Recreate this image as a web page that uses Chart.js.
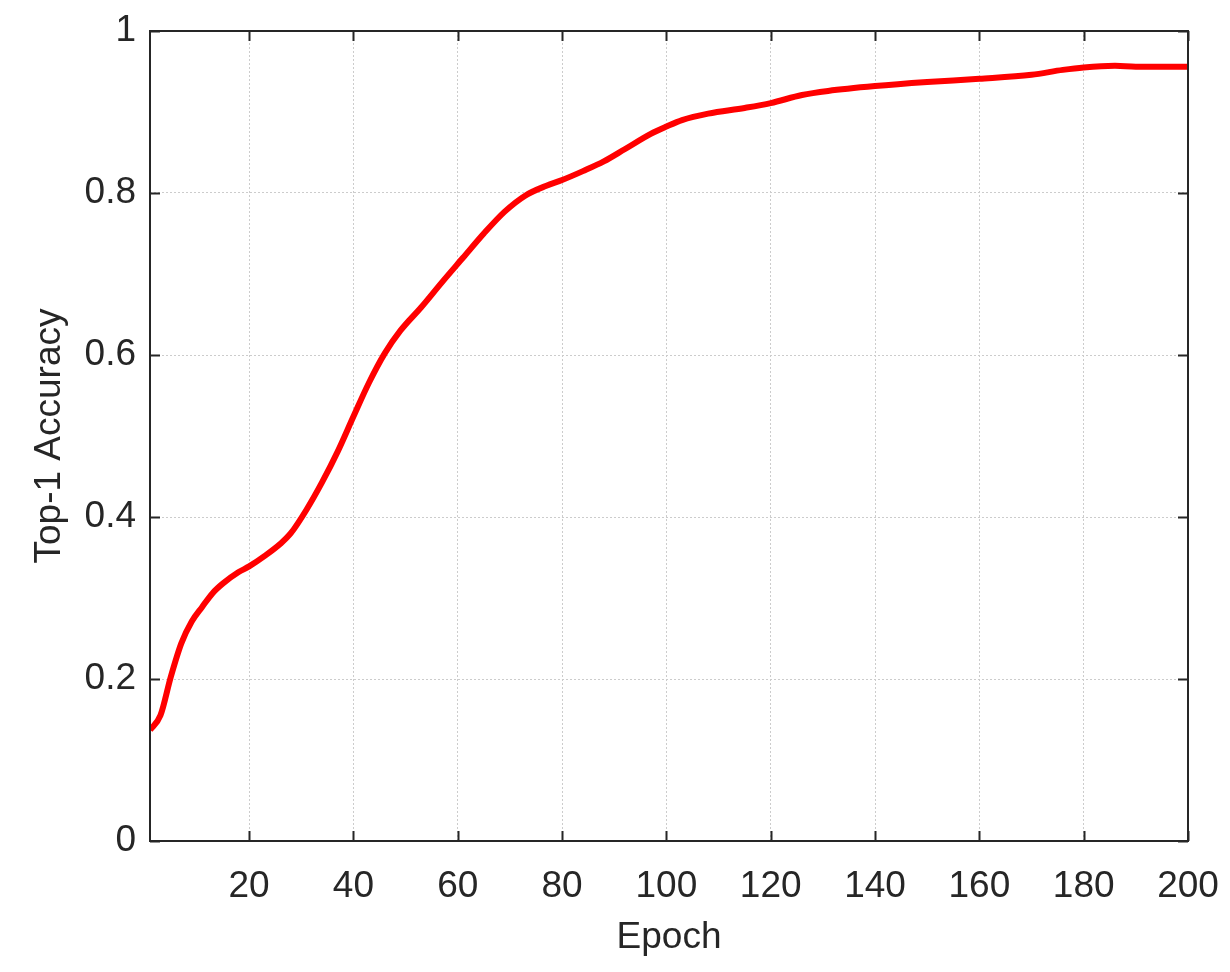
<!DOCTYPE html>
<html>
<head>
<meta charset="utf-8">
<script src="https://cdn.jsdelivr.net/npm/chart.js@4/dist/chart.umd.min.js"></script>
<style>
  html, body { margin: 0; padding: 0; background: #fff; }
  #wrap { width: 1230px; height: 972px; }
</style>
</head>
<body>
<div id="wrap"><canvas id="accChart"></canvas></div>
<script>
// values
var epochs = [1, 3, 5, 7, 9, 11, 13, 15, 18, 20, 23, 26, 28, 31, 34, 37, 40, 43, 46, 49,
              53, 57, 61, 65, 69, 73, 77, 80, 84, 88, 92, 97, 100, 103, 108, 115, 120, 126,
              131, 140, 150, 160, 170, 176, 180, 186, 190, 200];
var accuracy = [0.137, 0.155, 0.203, 0.244, 0.271, 0.289, 0.306, 0.318, 0.332, 0.339, 0.352,
                0.367, 0.380, 0.409, 0.443, 0.481, 0.524, 0.566, 0.602, 0.630, 0.659, 0.690,
                0.720, 0.750, 0.777, 0.797, 0.809, 0.816, 0.827, 0.839, 0.854, 0.873, 0.882,
                0.890, 0.898, 0.905, 0.911, 0.921, 0.926, 0.932, 0.937, 0.941, 0.946, 0.952,
                0.955, 0.957, 0.956, 0.956];
var xTicks = [20, 40, 60, 80, 100, 120, 140, 160, 180, 200];
var yTicks = [0, 0.2, 0.4, 0.6, 0.8, 1];

var points = epochs.map(function(e, i) { return {x: e, y: accuracy[i]}; });

var textColor = '#262626';
var fontFamily = 'Arial, "Liberation Sans", Helvetica, sans-serif';

// matlab style box with inward ticks on all four sides
var boxPlugin = {
    id: 'boxTicks',
    afterDraw: function(chart) {
        var ctx = chart.ctx;
        var a = chart.chartArea;
        var xs = chart.scales.x, ys = chart.scales.y;
        var len = 10;
        ctx.save();
        ctx.strokeStyle = textColor;
        ctx.lineWidth = 2;
        ctx.beginPath();
        xTicks.forEach(function(v) {
            var px = Math.round(xs.getPixelForValue(v)) + 0.5;
            ctx.moveTo(px, a.bottom); ctx.lineTo(px, a.bottom - len);
            ctx.moveTo(px, a.top); ctx.lineTo(px, a.top + len);
        });
        yTicks.forEach(function(v) {
            var py = Math.round(ys.getPixelForValue(v)) + 0.5;
            ctx.moveTo(a.left, py); ctx.lineTo(a.left + len, py);
            ctx.moveTo(a.right, py); ctx.lineTo(a.right - len, py);
        });
        ctx.stroke();
        ctx.strokeRect(a.left, a.top, a.right - a.left, a.bottom - a.top);
        ctx.restore();
    }
};

var ctx = document.getElementById('accChart').getContext('2d');
var accChart = new Chart(ctx, {
    type: 'line',
    data: {
        datasets: [{
            label: 'Top-1 Accuracy',
            data: points,
            borderColor: '#ff0000',
            borderWidth: 6,
            pointRadius: 0,
            fill: false,
            cubicInterpolationMode: 'monotone'
        }]
    },
    options: {
        responsive: true,
        maintainAspectRatio: false,
        animation: false,
        layout: { padding: { top: 31, right: 42, left: 0, bottom: 0 } },
        plugins: { legend: { display: false }, tooltip: { enabled: false } },
        scales: {
            x: {
                type: 'linear',
                min: 1,
                max: 200,
                afterBuildTicks: function(scale) {
                    scale.ticks = xTicks.map(function(v) { return {value: v}; });
                },
                afterFit: function(scale) {
                    scale.height = 131;
                    scale.paddingLeft = 0;
                    scale.paddingRight = 0;
                },
                grid: {
                    color: '#cccccc',
                    lineWidth: 1,
                    drawTicks: false
                },
                border: { display: false, dash: [2, 2] },
                ticks: {
                    color: textColor,
                    padding: 24,
                    maxRotation: 0,
                    autoSkip: false,
                    font: { family: fontFamily, size: 37 }
                },
                title: {
                    display: true,
                    text: 'Epoch',
                    color: textColor,
                    padding: { top: 0, bottom: 12 },
                    font: { family: fontFamily, size: 37 }
                }
            },
            y: {
                min: 0,
                max: 1,
                afterBuildTicks: function(scale) {
                    scale.ticks = yTicks.map(function(v) { return {value: v}; });
                },
                afterFit: function(scale) {
                    scale.width = 150;
                    scale.paddingTop = 0;
                    scale.paddingBottom = 0;
                },
                grid: {
                    color: '#cccccc',
                    lineWidth: 1,
                    drawTicks: false
                },
                border: { display: false, dash: [2, 2] },
                ticks: {
                    color: textColor,
                    padding: 14,
                    font: { family: fontFamily, size: 37 },
                    callback: function(v) { return String(Math.round(v * 10) / 10); }
                },
                title: {
                    display: true,
                    text: 'Top-1 Accuracy',
                    color: textColor,
                    padding: { top: 28, bottom: 0 },
                    font: { family: fontFamily, size: 37 }
                }
            }
        }
    },
    plugins: [boxPlugin]
});
</script>
</body>
</html>
